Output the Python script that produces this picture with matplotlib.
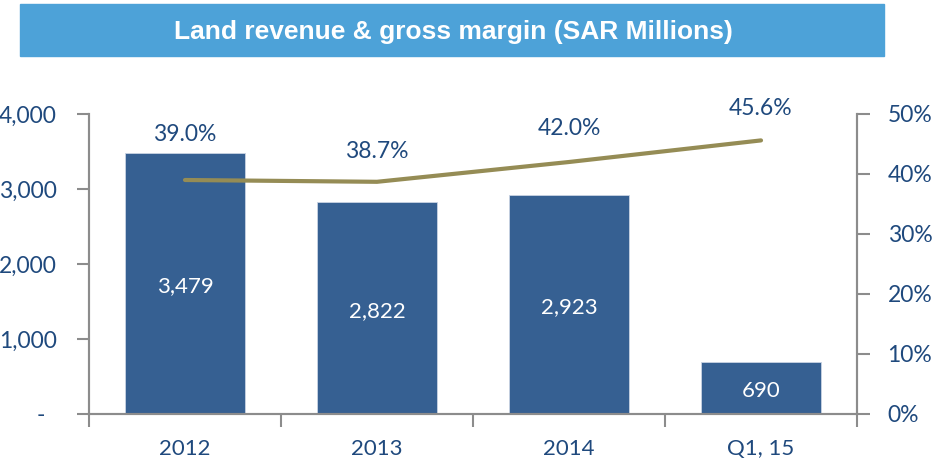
import matplotlib
matplotlib.use("Agg")
import matplotlib.pyplot as plt
from matplotlib.patches import Rectangle
from matplotlib.ticker import FuncFormatter

periods = ["2012", "2013", "2014", "Q1, 15"]
revenue = [3479, 2822, 2923, 690]
margin = [39.0, 38.7, 42.0, 45.6]
# vertical offset (points) of each margin label above its point
margin_label_dy = [33, 22, 24, 23]

BAR = "#366092"
LINE = "#958C55"
TXT = "#1F497D"
GRID = "#8C8C8C"

plt.rcParams["font.family"] = ["Lato", "DejaVu Sans"]

fig = plt.figure(figsize=(9.42, 4.62), dpi=100)

# title banner
fig.patches.append(Rectangle((20 / 942, 1 - 56 / 462), 864 / 942, 52 / 462,
                             transform=fig.transFigure, color="#4DA2D8", zorder=0))
fig.text(453 / 942, 1 - 32 / 462, "Land revenue & gross margin (SAR Millions)",
         color="white", fontsize=19, fontweight="bold", ha="center", va="center",
         family=["Liberation Sans", "DejaVu Sans"])

ax = fig.add_axes([89 / 942, 48 / 462, 768 / 942, 300 / 462])
x = list(range(len(periods)))
bars = ax.bar(x, revenue, width=0.625, color=BAR, edgecolor="#C9D3E3", linewidth=0.6, zorder=2)
ax.set_xlim(-0.5, len(periods) - 0.5)
ax.set_ylim(0, 4000)
ax.set_yticks([0, 1000, 2000, 3000, 4000])
ax.yaxis.set_major_formatter(FuncFormatter(lambda v, p: "-  " if v == 0 else f"{int(v):,}"))

ax.set_xticks(x)
ax.set_xticklabels(periods)
ax.set_xticks([i - 0.5 for i in range(len(periods) + 1)], minor=True)
ax.tick_params(axis="x", which="major", length=0, pad=18, labelsize=16, labelcolor=TXT)
ax.tick_params(axis="x", which="minor", length=9, width=1.5, color=GRID, direction="out")
ax.tick_params(axis="y", length=9, width=1.5, color=GRID, labelsize=16.5, labelcolor=TXT, pad=14)

for s in ["left", "bottom", "right"]:
    ax.spines[s].set_color(GRID)
    ax.spines[s].set_linewidth(1.5)
ax.spines["top"].set_visible(False)

for b, v in zip(bars, revenue):
    ax.annotate(f"{v:,}", (b.get_x() + b.get_width() / 2, v / 2), xytext=(0, -2),
                textcoords="offset points", color="white",
                fontsize=16, ha="center", va="center", zorder=4)

ax2 = ax.twinx()
ax2.plot(x, margin, color=LINE, lw=3, solid_capstyle="round", zorder=3)
ax2.set_ylim(0, 50)
ax2.set_yticks([0, 10, 20, 30, 40, 50])
ax2.yaxis.set_major_formatter(FuncFormatter(lambda v, p: f"{int(v)}%"))
ax2.tick_params(axis="y", length=9, width=1.5, color=GRID, labelsize=16.5, labelcolor=TXT, pad=13)
for s in ["left", "bottom", "right"]:
    ax2.spines[s].set_color(GRID)
    ax2.spines[s].set_linewidth(1.5)
ax2.spines["top"].set_visible(False)

for xi, m, dy in zip(x, margin, margin_label_dy):
    ax2.annotate(f"{m:.1f}%", (xi, m), xytext=(0, dy), textcoords="offset points",
                 ha="center", va="center", color=TXT, fontsize=16.5)

fig.savefig("out.png", dpi=100)
